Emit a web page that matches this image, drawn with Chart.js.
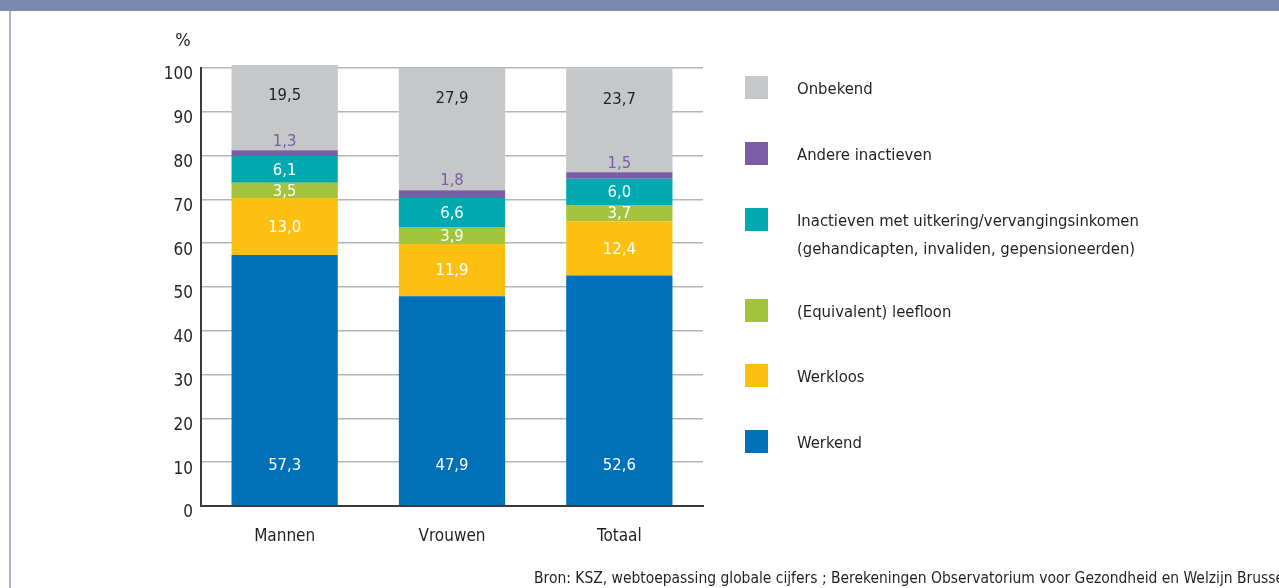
<!DOCTYPE html>
<html>
<head>
<meta charset="utf-8">
<script src="https://cdn.jsdelivr.net/npm/chart.js@4.4.1/dist/chart.umd.min.js"></script>
<style>
  html, body { margin: 0; padding: 0; background: #ffffff; }
  body { width: 1279px; height: 588px; position: relative; overflow: hidden;
         font-family: 'Liberation Sans Narrow', 'DejaVu Sans Condensed', 'Liberation Sans', sans-serif; }
  #header { position: absolute; left: 0; top: 0; width: 1279px; height: 11px; background: #7a8aad; }
  #leftBorder { position: absolute; left: 9px; top: 11px; width: 2px; height: 577px; background: #aab4cd; }
  #wrap { position: absolute; left: 0; top: 0; width: 1279px; height: 588px; }
  #source { position: absolute; left: 534px; top: 569px; font-size: 15.45px; color: #231f20; white-space: nowrap; }
</style>
</head>
<body>
<div id="header"></div>
<div id="leftBorder"></div>
<div id="wrap"><canvas id="c" width="1279" height="588"></canvas></div>
<div id="source">Bron: KSZ, webtoepassing globale cijfers ; Berekeningen Observatorium voor Gezondheid en Welzijn Brussel</div>
<script>
const categories = ['Mannen', 'Vrouwen', 'Totaal'];
const yTicks = [0, 10, 20, 30, 40, 50, 60, 70, 80, 90, 100];
const seriesNames = [
  'Werkend',
  'Werkloos',
  '(Equivalent) leefloon',
  ['Inactieven met uitkering/vervangingsinkomen', '(gehandicapten, invaliden, gepensioneerden)'],
  'Andere inactieven',
  'Onbekend'
];
const werkend = [57.3, 47.9, 52.6];
const werkloos = [13.0, 11.9, 12.4];
const leefloon = [3.5, 3.9, 3.7];
const inactievenUitkering = [6.1, 6.6, 6.0];
const andereInactieven = [1.3, 1.8, 1.5];
const onbekend = [19.5, 27.9, 23.7];

const colors = ['#0070b9', '#fdc010', '#a2c33b', '#00a9b0', '#7b5ca6', '#c6c7c9'];
const seriesValues = [werkend, werkloos, leefloon, inactievenUitkering, andereInactieven, onbekend];

const FONT = "'Liberation Sans Narrow', 'DejaVu Sans Condensed', 'Liberation Sans', sans-serif";

const labelPlugin = {
  id: 'segLabels',
  afterDatasetsDraw(chart) {
    const ctx = chart.ctx;
    ctx.save();
    ctx.font = '16.5px ' + FONT;
    ctx.textAlign = 'center';
    ctx.textBaseline = 'middle';
    chart.data.datasets.forEach((ds, i) => {
      const meta = chart.getDatasetMeta(i);
      meta.data.forEach((el, j) => {
        const v = ds.data[j];
        const txt = v.toFixed(1).replace('.', ',');
        let y, color = '#ffffff';
        if (i === 0) { y = el.base - 40; }
        else if (i === 5) { y = el.y + 31; color = '#231f20'; }
        else if (i === 4) { y = el.y - 9; color = '#7b5ca6'; }
        else { y = (el.y + el.base) / 2 + 1; }
        ctx.fillStyle = color;
        ctx.fillText(txt, el.x, y);
      });
    });
    ctx.restore();
  }
};

const legendPlugin = {
  id: 'sideLegend',
  afterDraw(chart) {
    const ctx = chart.ctx;
    ctx.save();
    const rowsTop = [76, 142, 208, 299, 364, 430];
    const n = chart.data.datasets.length;
    ctx.font = '16.5px ' + FONT;
    ctx.textBaseline = 'middle';
    ctx.textAlign = 'left';
    for (let k = 0; k < n; k++) {
      const ds = chart.data.datasets[n - 1 - k];
      const top = rowsTop[k];
      ctx.fillStyle = ds.backgroundColor;
      ctx.fillRect(745, top, 23, 23);
      ctx.fillStyle = '#231f20';
      const lines = Array.isArray(ds.legendText) ? ds.legendText : [ds.legendText];
      lines.forEach((ln, li) => ctx.fillText(ln, 797, top + 14 + li * 28));
    }
    // axis unit
    ctx.font = '18px ' + FONT;
    ctx.textAlign = 'center';
    ctx.fillText('%', 183, 41);
    ctx.restore();
  }
};

const datasets = seriesValues.map((vals, i) => ({
  label: Array.isArray(seriesNames[i]) ? seriesNames[i].join(' ') : seriesNames[i],
  legendText: seriesNames[i],
  data: vals,
  backgroundColor: colors[i],
  borderWidth: 0,
  categoryPercentage: 1.0,
  barPercentage: 0.635,
  clip: false
}));

new Chart(document.getElementById('c'), {
  type: 'bar',
  data: { labels: categories, datasets },
  options: {
    responsive: false,
    animation: false,
    layout: { padding: { left: 121, right: 576, top: 68, bottom: 0 } },
    plugins: { legend: { display: false }, tooltip: { enabled: false } },
    scales: {
      x: {
        stacked: true,
        grid: { display: false, drawTicks: false },
        border: { display: true, color: '#3a3a3a', width: 2 },
        ticks: { color: '#231f20', font: { size: 17, family: FONT }, padding: 20 },
        afterFit(scale) { scale.height = 82; }
      },
      y: {
        stacked: true,
        min: 0,
        max: 100,
        afterBuildTicks(scale) { scale.ticks = yTicks.map(v => ({ value: v })); },
        grid: { color: '#b5b5b5', lineWidth: 1.5, drawTicks: false },
        border: { display: true, color: '#3a3a3a', width: 2 },
        ticks: { color: '#231f20', font: { size: 17, family: FONT }, padding: 8, labelOffset: 7 },
        afterFit(scale) { scale.width = 80; }
      }
    }
  },
  plugins: [labelPlugin, legendPlugin]
});
</script>
</body>
</html>
